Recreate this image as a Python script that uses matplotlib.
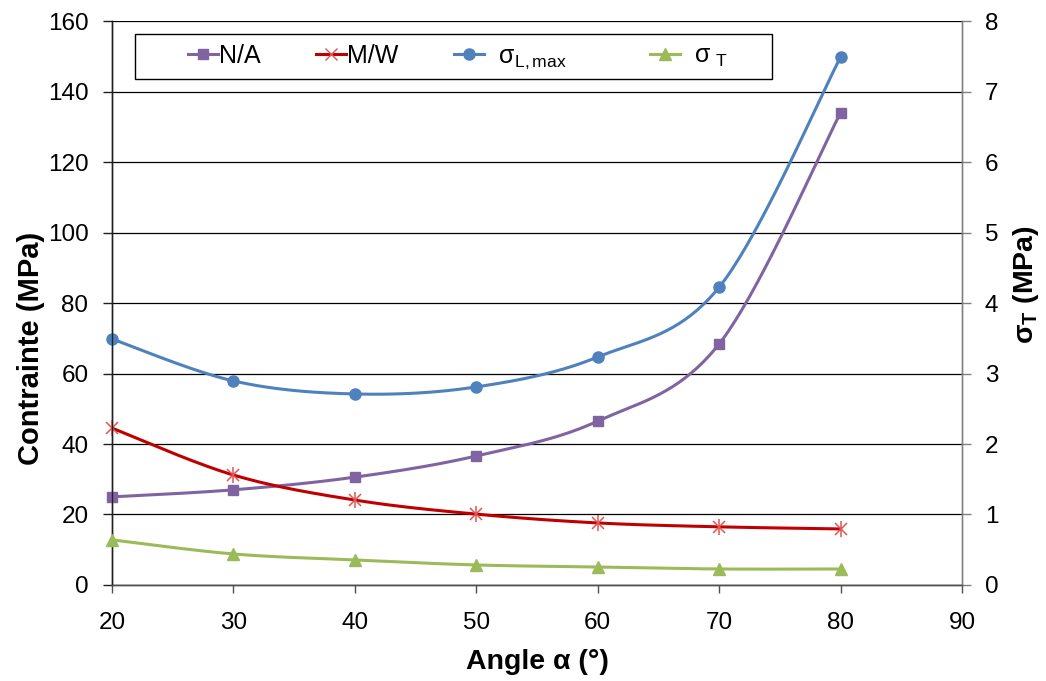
import numpy as np
import matplotlib
matplotlib.use("Agg")
import matplotlib.pyplot as plt
from matplotlib.lines import Line2D
from matplotlib.patches import Rectangle

plt.rcParams['font.family'] = ['Liberation Sans', 'DejaVu Sans']
plt.rcParams['mathtext.fontset'] = 'custom'
plt.rcParams['mathtext.rm'] = 'Liberation Sans'
plt.rcParams['mathtext.it'] = 'Liberation Sans'
plt.rcParams['mathtext.bf'] = 'Liberation Sans:bold'

angles = [20, 30, 40, 50, 60, 70, 80]
n_a = [25.0, 27.0, 30.6, 36.6, 46.5, 68.4, 134.0]
m_w = [44.5, 31.2, 24.1, 20.1, 17.6, 16.5, 15.9]
sigma_l = [69.8, 57.9, 54.2, 56.2, 64.7, 84.5, 149.8]
sigma_t = [0.64, 0.44, 0.355, 0.284, 0.255, 0.227, 0.227]

left_ticks = list(range(0, 161, 20))
right_ticks = list(range(0, 9))
x_ticks = list(range(20, 91, 10))

def smooth(x, y, n=40):
    x = np.asarray(x, float); y = np.asarray(y, float)
    P = np.column_stack([x, y])
    Pext = np.vstack([P[0], P, P[-1]])
    out = []
    for i in range(len(P) - 1):
        p0, p1, p2, p3 = Pext[i], Pext[i + 1], Pext[i + 2], Pext[i + 3]
        c1 = p1 + (p2 - p0) / 6.0
        c2 = p2 - (p3 - p1) / 6.0
        t = np.linspace(0, 1, n)[:, None]
        seg = (1 - t) ** 3 * p1 + 3 * (1 - t) ** 2 * t * c1 + 3 * (1 - t) * t ** 2 * c2 + t ** 3 * p2
        out.append(seg if i == 0 else seg[1:])
    s = np.vstack(out)
    return s[:, 0], s[:, 1]

fig = plt.figure(figsize=(10.46, 6.81), dpi=100)
ax = fig.add_axes([0.1071, 0.141, 0.8126, 0.828])
ax2 = ax.twinx()

c_na = '#8064A2'
c_mw = '#C00000'
c_mw_m = '#E05555'
c_sl = '#4F81BD'
c_st = '#9BBB59'
lw = 2.2

sx, sy = smooth(angles, n_a)
ax.plot(sx, sy, color=c_na, lw=lw, zorder=3)
ax.plot(angles, n_a, ls='none', marker='s', ms=7, color=c_na, zorder=4, clip_on=False)

sx, sy = smooth(angles, m_w)
ax.plot(sx, sy, color=c_mw, lw=lw, zorder=3)
ax.plot(angles, m_w, ls='none', marker='x', ms=9, mew=1.1, color=c_mw_m, zorder=4, clip_on=False)
ax.plot(angles, m_w, ls='none', marker='|', ms=11, mew=1.1, color=c_mw_m, zorder=4, clip_on=False)

sx, sy = smooth(angles, sigma_l)
ax.plot(sx, sy, color=c_sl, lw=lw, zorder=3)
ax.plot(angles, sigma_l, ls='none', marker='o', ms=8, color=c_sl, zorder=4, clip_on=False)

sx, sy = smooth(angles, sigma_t)
ax2.plot(sx, sy, color=c_st, lw=lw, zorder=3)
ax2.plot(angles, sigma_t, ls='none', marker='^', ms=8.5, color=c_st, zorder=4, clip_on=False)

ax.set_xlim(20, 90)
ax.set_ylim(0, 160)
ax2.set_ylim(0, 8)
ax.set_xticks(x_ticks)
ax.set_yticks(left_ticks)
ax2.set_yticks(right_ticks)

ax.grid(axis='y', color='#000000', lw=0.9)
ax.set_axisbelow(True)
for a in (ax, ax2):
    a.spines['top'].set_visible(False)
    a.spines['left'].set_color('#202020')
    a.spines['right'].set_color('#808080')
    a.spines['bottom'].set_color('#505050')
    for s in ('left', 'right', 'bottom'):
        a.spines[s].set_linewidth(1.0)
    a.tick_params(direction='out', width=1, labelsize=17.5)
ax.tick_params(axis='y', length=6.5, pad=10.5, color='#202020')
ax.tick_params(axis='x', length=5.8, pad=14, color='#505050')
ax2.tick_params(axis='y', length=6.5, pad=10, color='#808080')

ax.set_xlabel('Angle α (°)', fontsize=20.5, fontweight='bold', labelpad=10.5)
ax.set_ylabel('Contrainte (MPa)', fontsize=21, fontweight='bold', labelpad=2)
ax.yaxis.label.set_y(0.42)
ax2.set_ylabel(r'$\mathbf{\sigma}_{\mathregular{T}}$ (MPa)', fontsize=20.5, fontweight='bold', labelpad=9)
ax2.yaxis.label.set_y(0.532)

# legend frame
frame = Rectangle((0.02706, 0.8972), 0.7494, 0.0798, transform=ax2.transAxes,
                  facecolor='white', edgecolor='#000000', lw=1.0, zorder=20, clip_on=False)
ax2.add_patch(frame)

handles = [
    Line2D([], [], color=c_na, lw=lw, marker='s', ms=7),
    Line2D([], [], color=c_mw, lw=lw, marker='x', ms=9, mec=c_mw_m),
    Line2D([], [], color=c_sl, lw=lw, marker='o', ms=8),
    Line2D([], [], color=c_st, lw=lw, marker='^', ms=8.5),
]
labels = ['N/A', 'M/W', r'  $\sigma_{\mathregular{L,max}}$     ', r'  $\sigma_{\mathregular{\ T}}$']
leg = ax2.legend(handles, labels, ncol=4, loc='center left', bbox_to_anchor=(0.0894, 0.936),
                 borderaxespad=0, fontsize=18, frameon=False,
                 handlelength=1.2, handletextpad=0.05, columnspacing=2.2, borderpad=0)
leg.set_zorder(30)

fig.savefig('out.png', dpi=100)
